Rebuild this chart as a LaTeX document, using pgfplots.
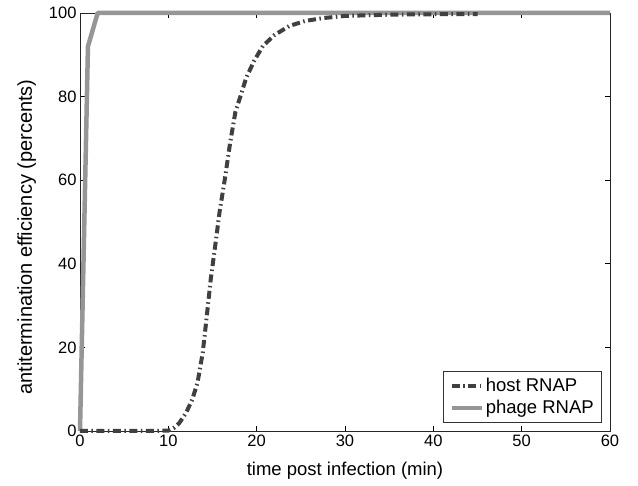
\documentclass[border=0pt]{standalone}
\usepackage{pgfplots}
\pgfplotsset{compat=1.18}
\usepackage{fontspec}
\setmainfont{Liberation Sans}

\definecolor{hostgray}{RGB}{64,64,64}
\definecolor{phagegray}{RGB}{150,150,150}

\begin{document}
\begin{tikzpicture}
  \begin{axis}[
      scale only axis,
      width=530pt, height=418pt,
      xmin=0, xmax=60, ymin=0, ymax=100,
      xtick={0,10,...,60}, ytick={0,20,...,100},
      tick align=inside,
      major tick length=5pt,
      tick style={black, line width=0.6pt},
      axis line style={line width=0.9pt, black!85},
      /pgf/number format/assume math mode=true,
      ticklabel style={font=\fontsize{16.5}{19}\selectfont},
      xlabel={time post infection (min)},
      ylabel={antitermination efficiency (percents)},
      xlabel style={font=\fontsize{18.5}{21}\selectfont, yshift=-9pt},
      ylabel style={font=\fontsize{20}{23}\selectfont, yshift=6pt, xshift=-15pt},
      legend style={at={(0.985,0.02)}, anchor=south east,
        font=\fontsize{18.5}{20}\selectfont, draw=black!80, line width=0.6pt,
        inner xsep=6pt, inner ysep=5pt, row sep=3pt},
      legend cell align=left,
      legend image code/.code={\draw[#1] (0pt,0pt) -- (30pt,0pt);},
      clip=false,
  ]
    % phage RNAP (drawn first, legend added after host)
    \addplot[phagegray, line width=4.5pt, line join=round, forget plot]
      coordinates {(0,0) (0.9,92) (2,100) (60,100)};

    % host RNAP
    \addplot[hostgray, line width=4pt, dash pattern=on 8pt off 3.5pt on 1.5pt off 3.5pt]
      coordinates {
        (0,0) (2,0) (4,0) (6,0) (8,0) (10,0.1) (10.6,0.7) (11.2,1.8)
        (12,4.3) (12.7,7.5) (13.3,11.5) (13.9,18.8) (14.4,28.4) (14.8,36.3)
        (15.3,44.2) (15.8,52.4) (16.4,60.3) (17.0,69) (17.6,76.4) (18.2,80.3)
        (18.8,84.4) (19.7,88.5) (20.7,92.1) (22,94.7) (23.7,96.9) (25.5,98.1)
        (27.6,98.8) (30,99.3) (35,99.6) (40,99.7) (45,99.7)
      };
    \addlegendentry{host RNAP}
    \addlegendimage{phagegray, line width=4.5pt}
    \addlegendentry{phage RNAP}
  \end{axis}
  \path ([xshift=-80pt,yshift=-55pt]current axis.south west)
    rectangle ([xshift=28pt,yshift=13pt]current axis.north east);
\end{tikzpicture}
\end{document}
